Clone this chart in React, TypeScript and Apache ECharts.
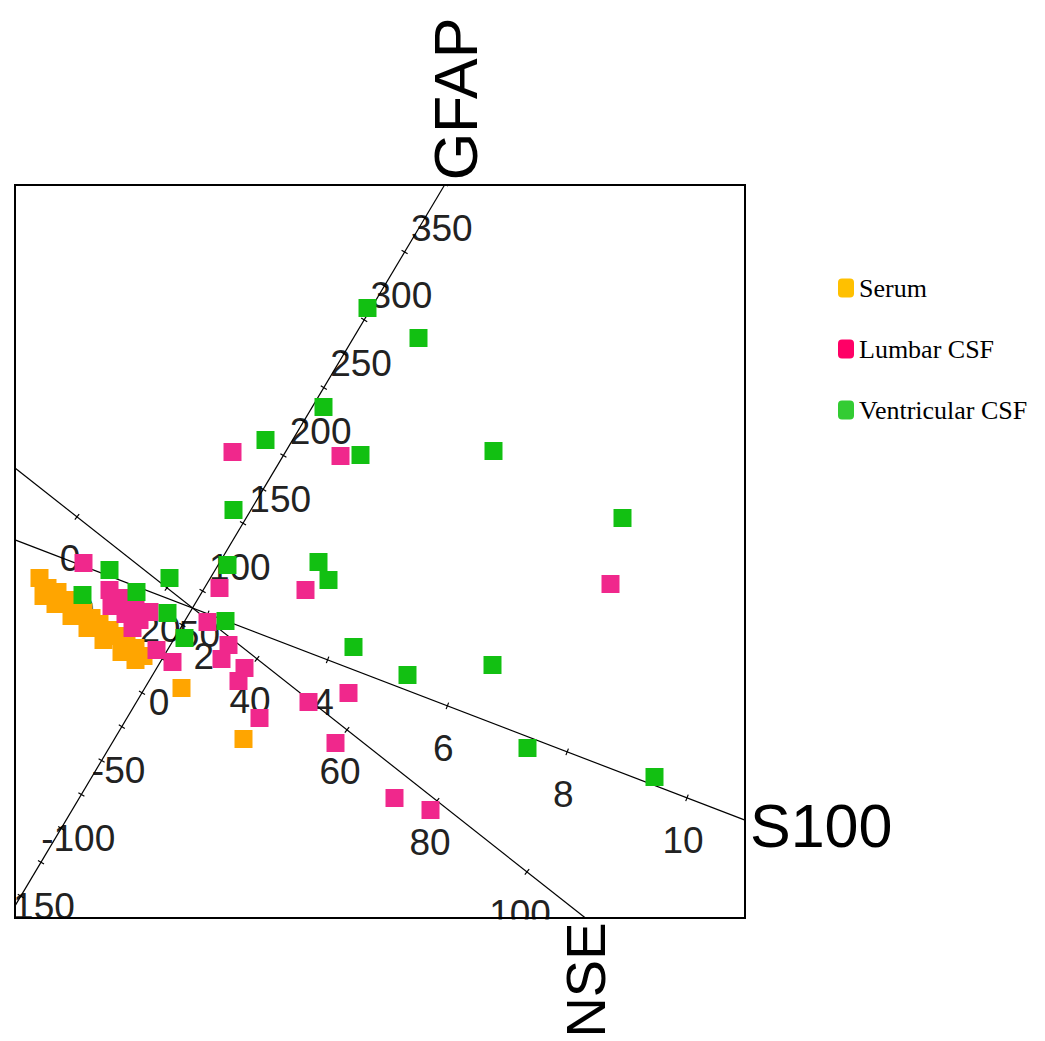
import React, { useEffect, useRef } from "react";
import * as echarts from "echarts";

// Bounds of the biplot plane (score units, equal scale on both dimensions)
const xBounds = [-1.775, 5.525];
const yBounds = [-3.1, 4.23];

const categories = ["Serum", "Lumbar CSF", "Ventricular CSF"];

// Sample scores on the two biplot dimensions
const serumScores: number[][] = [
  [-1.53, 0.3], [-1.45, 0.2], [-1.35, 0.16], [-1.27, 0.08], [-1.19, 0.02],
  [-1.09, -0.04], [-1.01, -0.1], [-0.93, -0.16], [-0.83, -0.22], [-0.75, -0.28],
  [-0.66, -0.34], [-0.57, -0.4], [-0.49, -0.48], [-0.57, -0.52], [-0.71, -0.44],
  [-0.89, -0.32], [-1.05, -0.2], [-1.21, -0.08], [-1.37, 0.04], [-1.49, 0.12],
  [-0.11, -0.8], [0.51, -1.31],
];

const lumbarScores: number[][] = [
  [-1.09, 0.45], [0.4, 1.56], [1.48, 1.52], [1.13, 0.18], [0.27, 0.2],
  [4.18, 0.24], [1.56, -0.85], [1.16, -0.94], [1.43, -1.35], [2.02, -1.9],
  [2.38, -2.02], [0.67, -1.1], [0.15, -0.14], [-0.36, -0.42], [-0.2, -0.54],
  [0.36, -0.37], [0.29, -0.51], [0.52, -0.6], [0.46, -0.73],
  [-0.83, 0.18], [-0.71, 0.1], [-0.57, 0.04], [-0.81, 0.02], [-0.67, -0.06],
  [-0.53, -0.12], [-0.43, -0.04], [-0.6, -0.2],
];

const ventricularScores: number[][] = [
  [1.75, 3.0], [2.26, 2.7], [1.31, 2.01], [0.73, 1.68], [1.68, 1.53],
  [3.01, 1.57], [0.41, 0.98], [4.3, 0.9], [0.35, 0.43], [1.26, 0.46],
  [1.36, 0.28], [-0.23, 0.3], [-0.83, 0.38], [-1.1, 0.13], [-0.56, 0.16],
  [-0.25, -0.05], [-0.08, -0.3], [0.33, -0.13], [1.61, -0.39], [2.15, -0.67],
  [3.0, -0.57], [3.35, -1.4], [4.62, -1.69],
];

// Calibrated variable axes: tick values and labelled values
const gfapTicks = [-150, -125, -100, -75, -50, -25, 0, 25, 50, 75, 100, 125, 150, 175, 200, 225, 250, 275, 300, 325, 350, 375];
const gfapLabels = [-150, -100, -50, 0, 50, 100, 150, 200, 250, 300, 350];
const s100Ticks = [0, 2, 4, 6, 8, 10];
const s100Labels = [0, 2, 4, 6, 8, 10];
const nseTicks = [0, 20, 40, 60, 80, 100];
const nseLabels = [0, 20, 40, 60, 80, 100];

// Value sitting at the biplot origin and displacement per unit of each variable
const gfapCalib = { center: 62.5, unit: [0.00808, 0.01356] };
const s100Calib = { center: 1.745, unit: [0.599, -0.23] };
const nseCalib = { center: 25.67, unit: [0.045, -0.0355] };

type Calib = { center: number; unit: number[] };

const variableAxes = [
  { name: "GFAP", calib: gfapCalib, ticks: gfapTicks, labels: gfapLabels, labelOffset: [17, 10] },
  { name: "S100", calib: s100Calib, ticks: s100Ticks, labels: s100Labels, labelOffset: [-4, 43] },
  { name: "NSE", calib: nseCalib, ticks: nseTicks, labels: nseLabels, labelOffset: [-7, 42] },
];

const pointColors = ["#FFA500", "#F0288C", "#12C012"];
const legendColors = ["#FFC000", "#FF0066", "#33CC33"];

function project(c: Calib, v: number): number[] {
  return [(v - c.center) * c.unit[0], (v - c.center) * c.unit[1]];
}

// Range of variable values whose projection stays inside the plotting plane
function visibleRange(c: Calib): number[] {
  let lo = -Infinity;
  let hi = Infinity;
  const bounds = [xBounds, yBounds];
  for (let i = 0; i < 2; i++) {
    const u = c.unit[i];
    if (u === 0) continue;
    const a = c.center + bounds[i][0] / u;
    const b = c.center + bounds[i][1] / u;
    lo = Math.max(lo, Math.min(a, b));
    hi = Math.min(hi, Math.max(a, b));
  }
  return [lo, hi];
}

function tickSegment(c: Calib, v: number, half: number) {
  const p = project(c, v);
  const len = Math.hypot(c.unit[0], c.unit[1]);
  const nx = -c.unit[1] / len;
  const ny = c.unit[0] / len;
  return { coords: [[p[0] - nx * half, p[1] - ny * half], [p[0] + nx * half, p[1] + ny * half]] };
}

export default function App() {
  const ref = useRef<HTMLDivElement>(null);

  useEffect(() => {
    if (!ref.current) return;
    const chart = echarts.init(ref.current, null, { renderer: "svg" });

    const series: any[] = [];

    variableAxes.forEach((ax) => {
      const [lo, hi] = visibleRange(ax.calib);
      series.push({
        type: "lines",
        name: ax.name + " axis",
        coordinateSystem: "cartesian2d",
        silent: true,
        z: 2,
        lineStyle: { color: "#000", width: 1.2, opacity: 1 },
        data: [
          { coords: [project(ax.calib, lo), project(ax.calib, hi)] },
          ...ax.ticks.map((t) => tickSegment(ax.calib, t, 0.035)),
        ],
      });
      series.push({
        type: "scatter",
        name: ax.name + " labels",
        silent: true,
        z: 1,
        symbolSize: 1,
        itemStyle: { color: "rgba(0,0,0,0)", opacity: 1 },
        label: {
          show: true,
          position: "inside",
          offset: ax.labelOffset,
          formatter: (p: any) => String(p.data[2]),
          color: "#222",
          fontSize: 37,
          fontFamily: "Liberation Sans",
          align: "center",
          verticalAlign: "middle",
        },
        data: ax.labels.map((v) => [...project(ax.calib, v), v]),
      });
    });

    [serumScores, lumbarScores, ventricularScores].forEach((d, i) => {
      series.push({
        type: "scatter",
        name: categories[i],
        symbol: "rect",
        symbolSize: 18,
        z: 3 + i,
        itemStyle: { color: pointColors[i], opacity: 1 },
        data: d,
      });
    });

    const titleFont = { fontSize: 61, fontFamily: "Liberation Sans", fill: "#000" };

    chart.setOption({
      animation: false,
      grid: { left: 15, top: 185, width: 730, height: 733, show: false },
      xAxis: { type: "value", min: xBounds[0], max: xBounds[1], show: false },
      yAxis: { type: "value", min: yBounds[0], max: yBounds[1], show: false },
      legend: {
        orient: "vertical",
        left: 833,
        top: 270,
        itemWidth: 16,
        itemHeight: 19,
        itemGap: 35,
        icon: "roundRect",
        selectedMode: false,
        textStyle: { fontFamily: "Liberation Serif", fontSize: 26, color: "#000", lineHeight: 26 },
        data: categories.map((n, i) => ({ name: n, itemStyle: { color: legendColors[i] } })),
      },
      graphic: [
        { type: "rect", z: 10, silent: true, shape: { x: 0, y: 0, width: 14, height: 1041 }, style: { fill: "#fff" } },
        { type: "rect", z: 10, silent: true, shape: { x: 0, y: 919.5, width: 760, height: 122 }, style: { fill: "#fff" } },
        {
          type: "rect",
          z: 11,
          silent: true,
          shape: { x: 15, y: 185, width: 730, height: 733 },
          style: { fill: "none", stroke: "#000", lineWidth: 2 },
        },
        {
          type: "text",
          z: 11,
          x: 456,
          y: 99,
          rotation: Math.PI / 2,
          style: { ...titleFont, text: "GFAP", align: "center", verticalAlign: "middle" },
        },
        {
          type: "text",
          z: 11,
          x: 750,
          y: 826,
          style: { ...titleFont, text: "S100", align: "left", verticalAlign: "middle" },
        },
        {
          type: "text",
          z: 11,
          x: 585,
          y: 980,
          rotation: Math.PI / 2,
          style: { ...titleFont, fontSize: 56, text: "NSE", align: "center", verticalAlign: "middle" },
        },
      ],
      series,
    });

    return () => chart.dispose();
  }, []);

  return <div ref={ref} style={{ position: "absolute", left: 0, top: 0, width: 1045, height: 1041 }} />;
}
